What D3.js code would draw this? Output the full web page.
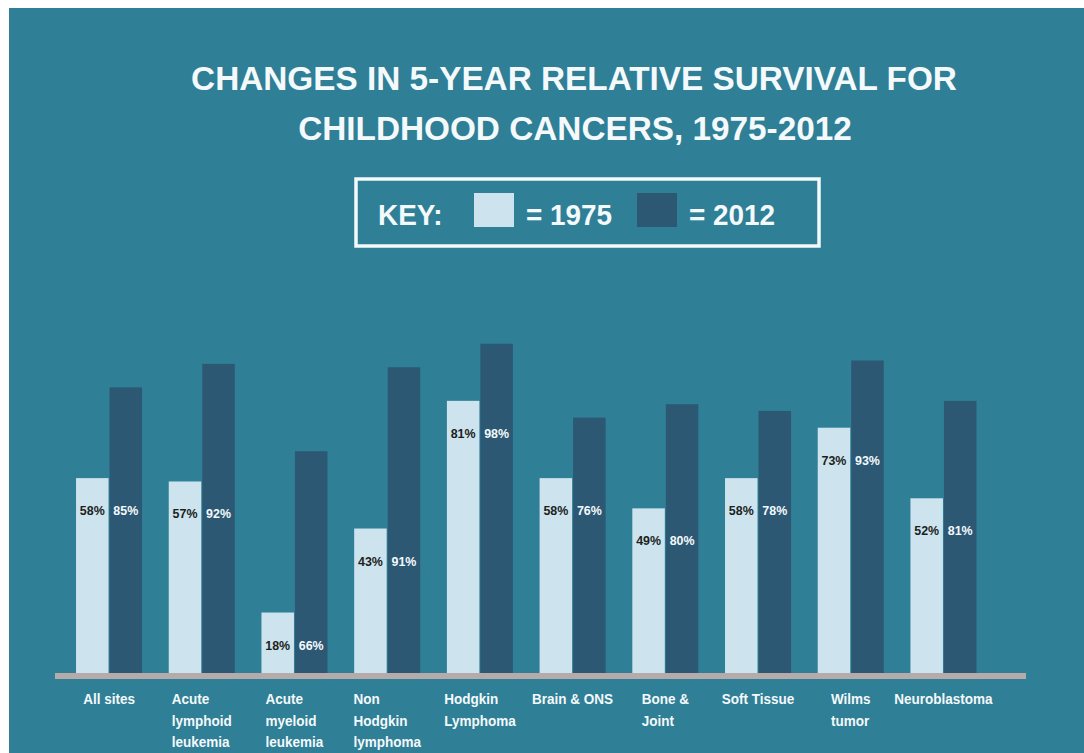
<!DOCTYPE html>
<html>
<head>
<meta charset="utf-8">
<script src="https://cdn.jsdelivr.net/npm/d3@7"></script>
<style>
  body { margin: 0; background: #fff; }
  svg { display: block; font-family: "Liberation Sans", Arial, sans-serif; }
</style>
</head>
<body>
<svg id="chart"></svg>
<script>
// categories, label lines and the two survival series
const categories = ['All sites', 'ALL', 'AML', 'NHL', 'Hodgkin', 'Brain', 'Bone', 'Soft', 'Wilms', 'Neuro'];
const categoryLabels = [
    ['All sites'],
    ['Acute', 'lymphoid', 'leukemia'],
    ['Acute', 'myeloid', 'leukemia'],
    ['Non', 'Hodgkin', 'lymphoma'],
    ['Hodgkin', 'Lymphoma'],
    ['Brain & ONS'],
    ['Bone &', 'Joint'],
    ['Soft Tissue'],
    ['Wilms', 'tumor'],
    ['Neuroblastoma']
];
const survival1975 = [58, 57, 18, 43, 81, 58, 49, 58, 73, 52];
const survival2012 = [85, 92, 66, 91, 98, 76, 80, 78, 93, 81];
const years = ['1975', '2012'];

const width = 1084, height = 753;
const colors = {bg: '#2f7f96', light: '#cde4ee', dark: '#2c5874', base: '#b6abab', text: '#f4f9fb'};

const data = categories.map((c, i) => ({
    key: c,
    lines: categoryLabels[i],
    values: [
        {year: '1975', v: survival1975[i]},
        {year: '2012', v: survival2012[i]}
    ]
}));

// squeeze text a little, the original uses a narrow bold face
function condense(sel, factor) {
    sel.each(function () {
        const w = this.getComputedTextLength();
        d3.select(this)
            .attr('textLength', w * factor)
            .attr('lengthAdjust', 'spacingAndGlyphs');
    });
}

const svg = d3.select('#chart')
    .attr('width', width)
    .attr('height', height);

// teal panel, small white margin top/left like the original image
svg.append('rect')
    .attr('x', 9).attr('y', 8)
    .attr('width', width - 9).attr('height', height - 8)
    .attr('fill', colors.bg);

// title
const title = svg.append('g')
    .attr('fill', colors.text)
    .attr('font-weight', 'bold')
    .attr('font-size', 34)
    .attr('text-anchor', 'middle');
title.append('text').attr('x', 574).attr('y', 90).text('CHANGES IN 5-YEAR RELATIVE SURVIVAL FOR');
title.append('text').attr('x', 575).attr('y', 140).text('CHILDHOOD CANCERS, 1975-2012');
condense(title.selectAll('text'), 0.98);

// scales
const x0 = d3.scaleBand()
    .domain(categories)
    .range([57.5, 995])
    .paddingInner(0.288)
    .paddingOuter(0.2);

const x1 = d3.scaleBand()
    .domain(years)
    .range([0, x0.bandwidth()])
    .paddingInner(0.03);

const y = d3.scaleLinear()
    .domain([0, 100])
    .range([673, 337]);

const color = d3.scaleOrdinal()
    .domain(years)
    .range([colors.light, colors.dark]);

// key box
const key = svg.append('g');
key.append('rect')
    .attr('x', 356).attr('y', 179)
    .attr('width', 463).attr('height', 67)
    .attr('fill', 'none')
    .attr('stroke', colors.text)
    .attr('stroke-width', 3.5);
key.append('text')
    .attr('x', 378).attr('y', 225)
    .attr('fill', colors.text)
    .attr('font-weight', 'bold')
    .attr('font-size', 30)
    .text('KEY:');
const keyItems = key.selectAll('.key-item')
    .data(years)
    .join('g')
    .attr('class', 'key-item')
    .attr('transform', (d, i) => `translate(${474 + i * 163},193)`);
keyItems.append('rect')
    .attr('width', 40).attr('height', 34)
    .attr('fill', d => color(d));
keyItems.append('text')
    .attr('x', 52).attr('y', 32)
    .attr('fill', colors.text)
    .attr('font-weight', 'bold')
    .attr('font-size', 30)
    .text(d => '= ' + d);
condense(key.selectAll('text'), 0.93);

// bars
const groups = svg.append('g')
    .selectAll('.group')
    .data(data)
    .join('g')
    .attr('class', 'group')
    .attr('transform', d => `translate(${x0(d.key)},0)`);

groups.selectAll('rect')
    .data(d => d.values)
    .join('rect')
    .attr('x', d => x1(d.year))
    .attr('y', d => y(d.v))
    .attr('width', x1.bandwidth())
    .attr('height', d => y(0) - y(d.v))
    .attr('fill', d => color(d.year));

// value labels, both placed at the level of the 1975 bar
groups.each(function (d) {
    const g = d3.select(this);
    const ly = y(d.values[0].v) + 37;
    g.selectAll('.val')
        .data(d.values)
        .join('text')
        .attr('class', 'val')
        .attr('x', v => x1(v.year) + x1.bandwidth() / 2)
        .attr('y', ly)
        .attr('text-anchor', 'middle')
        .attr('font-weight', 'bold')
        .attr('font-size', 13.5)
        .attr('fill', v => v.year === '1975' ? '#1b1f22' : colors.text)
        .text(v => v.v + '%');
});
condense(groups.selectAll('.val'), 0.92);

// baseline
svg.append('rect')
    .attr('x', 55).attr('y', y(0))
    .attr('width', 971).attr('height', 6)
    .attr('fill', colors.base);

// category labels: left-aligned block centred under each group
groups.each(function (d) {
    const t = d3.select(this).append('text')
        .attr('fill', colors.text)
        .attr('font-weight', 'bold')
        .attr('font-size', 15);
    t.selectAll('tspan')
        .data(d.lines)
        .join('tspan')
        .attr('y', (l, i) => 704 + i * 21.5)
        .text(l => l);
    let w = 0;
    t.selectAll('tspan').each(function () { w = Math.max(w, this.getComputedTextLength()); });
    w *= 0.9;
    const xs = x0.bandwidth() / 2 - w / 2;
    t.selectAll('tspan').attr('x', xs);
    condense(t.selectAll('tspan'), 0.9);
});
</script>
</body>
</html>
